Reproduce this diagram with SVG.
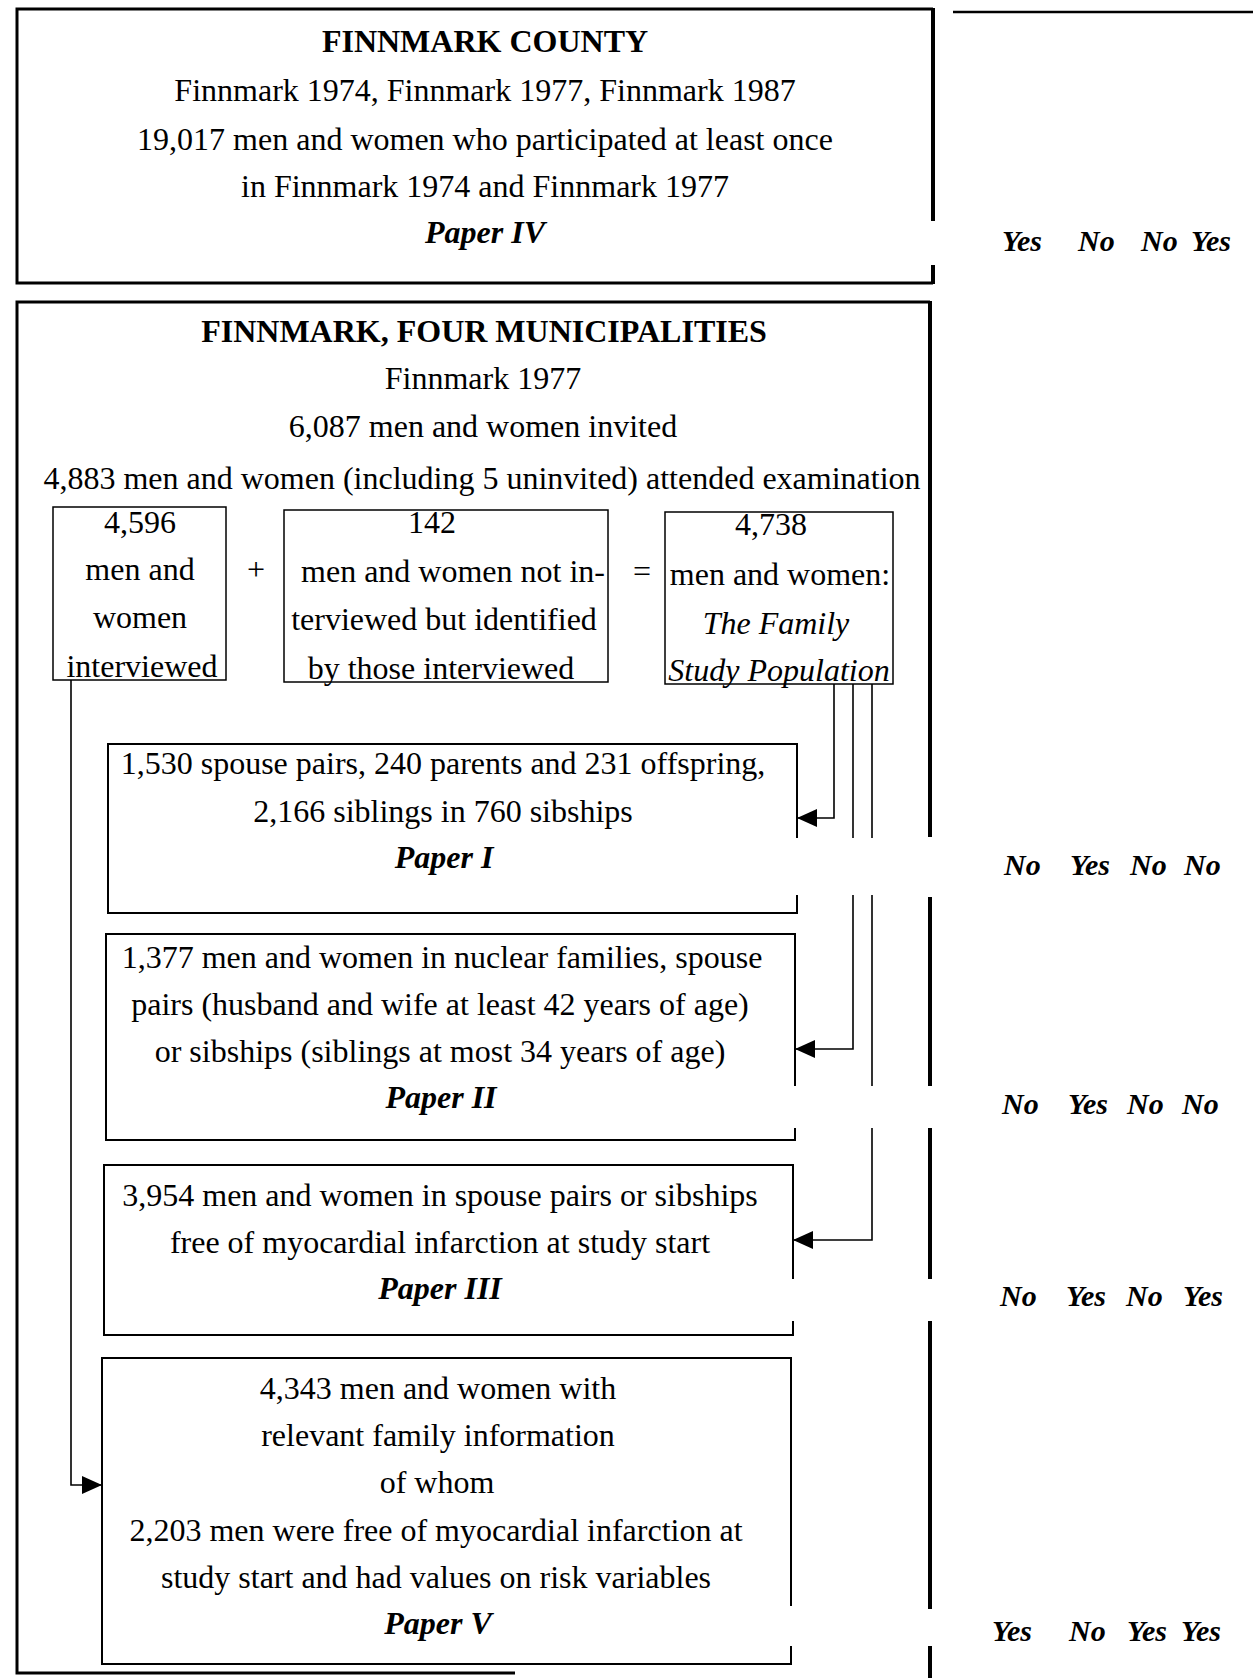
<svg xmlns="http://www.w3.org/2000/svg" width="1253" height="1678" viewBox="0 0 1253 1678">
<style>
.big{fill:none;stroke:#000;stroke-width:3}
.edge{fill:none;stroke:#000;stroke-width:4}
.mid{fill:none;stroke:#000;stroke-width:2}
.sm{fill:none;stroke:#000;stroke-width:1.5}
.conn{fill:none;stroke:#000;stroke-width:1.6}
text{font-family:"Liberation Serif","Times New Roman",serif;font-size:32px;fill:#000}
.c{text-anchor:middle}
.b{font-weight:bold}
.i{font-style:italic}
.bi{font-weight:bold;font-style:italic}
.yn{font-weight:bold;font-style:italic;font-size:30px}
</style>
<defs>
<marker id="arr" viewBox="0 0 20 18" refX="20" refY="9" markerWidth="20" markerHeight="18" orient="auto" markerUnits="userSpaceOnUse">
<path d="M0,0 L20,9 L0,18 Z" fill="#000"/>
</marker>
</defs>
<rect width="1253" height="1678" fill="#fff"/>

<g id="county">
<path class="big" d="M933,9 H17 V283 H933"/>
<path class="edge" d="M933,8 V221 M933,265 V284"/>
<text class="c b" x="485" y="52">FINNMARK COUNTY</text>
<text class="c" x="485" y="101">Finnmark 1974, Finnmark 1977, Finnmark 1987</text>
<text class="c" x="485" y="150">19,017 men and women who participated at least once</text>
<text class="c" x="485" y="197">in Finnmark 1974 and Finnmark 1977</text>
<text class="c bi" x="485" y="243">Paper IV</text>
</g>
<line id="topline" x1="953" y1="12" x2="1253" y2="12" stroke="#000" stroke-width="2.5"/>

<g id="municipalities">
<path class="big" d="M930,302 H17 V1673 H515"/>
<path class="edge" d="M930,301 V837 M930,897 V1086 M930,1128 V1279 M930,1321 V1609 M930,1646 V1678"/>
<text class="c b" x="484" y="342">FINNMARK, FOUR MUNICIPALITIES</text>
<text class="c" x="483" y="389">Finnmark 1977</text>
<text class="c" x="483" y="437">6,087 men and women invited</text>
<text class="c" x="482" y="489">4,883 men and women (including 5 uninvited) attended examination</text>
</g>

<g id="interviewed">
<rect class="sm" x="53" y="507" width="173" height="173"/>
<text class="c" x="140" y="533">4,596</text>
<text class="c" x="140" y="580">men and</text>
<text class="c" x="140" y="628">women</text>
<text class="c" x="142" y="677">interviewed</text>
</g>
<text id="plus" class="c" x="256" y="580">+</text>
<g id="identified">
<rect class="sm" x="284" y="510" width="324" height="172"/>
<text class="c" x="432" y="533">142</text>
<text class="c" x="453" y="582">men and women not in-</text>
<text class="c" x="444" y="630">terviewed but identified</text>
<text class="c" x="441" y="679">by those interviewed</text>
</g>
<text id="equals" class="c" x="642" y="582">=</text>
<g id="familystudy">
<rect class="sm" x="665" y="512" width="228" height="172"/>
<text class="c" x="771" y="535">4,738</text>
<text class="c" x="780" y="585">men and women:</text>
<text class="c i" x="776" y="634">The Family</text>
<text class="c i" x="779" y="681">Study Population</text>
</g>

<g id="paper1">
<path class="mid" d="M797,838 V744 H108 V913 H797 V895"/>
<text class="c" x="443" y="774">1,530 spouse pairs, 240 parents and 231 offspring,</text>
<text class="c" x="443" y="822">2,166 siblings in 760 sibships</text>
<text class="c bi" x="444" y="868">Paper I</text>
</g>
<g id="paper2">
<path class="mid" d="M795,1086 V934 H106 V1140 H795 V1128"/>
<text class="c" x="442" y="968">1,377 men and women in nuclear families, spouse</text>
<text class="c" x="440" y="1015">pairs (husband and wife at least 42 years of age)</text>
<text class="c" x="440" y="1062">or sibships (siblings at most 34 years of age)</text>
<text class="c bi" x="441" y="1108">Paper II</text>
</g>
<g id="paper3">
<path class="mid" d="M793,1279 V1165 H104 V1335 H793 V1321"/>
<text class="c" x="440" y="1206">3,954 men and women in spouse pairs or sibships</text>
<text class="c" x="440" y="1253">free of myocardial infarction at study start</text>
<text class="c bi" x="440" y="1299">Paper III</text>
</g>
<g id="paper5">
<path class="mid" d="M791,1606 V1358 H102 V1664 H791 V1646"/>
<text class="c" x="438" y="1399">4,343 men and women with</text>
<text class="c" x="438" y="1446">relevant family information</text>
<text class="c" x="437" y="1493">of whom</text>
<text class="c" x="436" y="1541">2,203 men were free of myocardial infarction at</text>
<text class="c" x="436" y="1588">study start and had values on risk variables</text>
<text class="c bi" x="438" y="1634">Paper V</text>
</g>

<g id="connectors">
<path class="conn" d="M834,684 V818 H797" marker-end="url(#arr)"/>
<path class="conn" d="M853,684 V838"/>
<path class="conn" d="M853,895 V1049 H795" marker-end="url(#arr)"/>
<path class="conn" d="M872,684 V838 M872,895 V1086"/>
<path class="conn" d="M872,1128 V1240 H793" marker-end="url(#arr)"/>
<path class="conn" d="M71,680 V1485 H102" marker-end="url(#arr)"/>
</g>

<g id="answers">
<text class="yn" x="1002" y="251">Yes</text>
<text class="yn" x="1078" y="251">No</text>
<text class="yn" x="1141" y="251">No</text>
<text class="yn" x="1191" y="251">Yes</text>
<text class="yn" x="1004" y="875">No</text>
<text class="yn" x="1070" y="875">Yes</text>
<text class="yn" x="1130" y="875">No</text>
<text class="yn" x="1184" y="875">No</text>
<text class="yn" x="1002" y="1114">No</text>
<text class="yn" x="1068" y="1114">Yes</text>
<text class="yn" x="1127" y="1114">No</text>
<text class="yn" x="1182" y="1114">No</text>
<text class="yn" x="1000" y="1306">No</text>
<text class="yn" x="1066" y="1306">Yes</text>
<text class="yn" x="1126" y="1306">No</text>
<text class="yn" x="1183" y="1306">Yes</text>
<text class="yn" x="992" y="1641">Yes</text>
<text class="yn" x="1069" y="1641">No</text>
<text class="yn" x="1127" y="1641">Yes</text>
<text class="yn" x="1181" y="1641">Yes</text>
</g>
</svg>
